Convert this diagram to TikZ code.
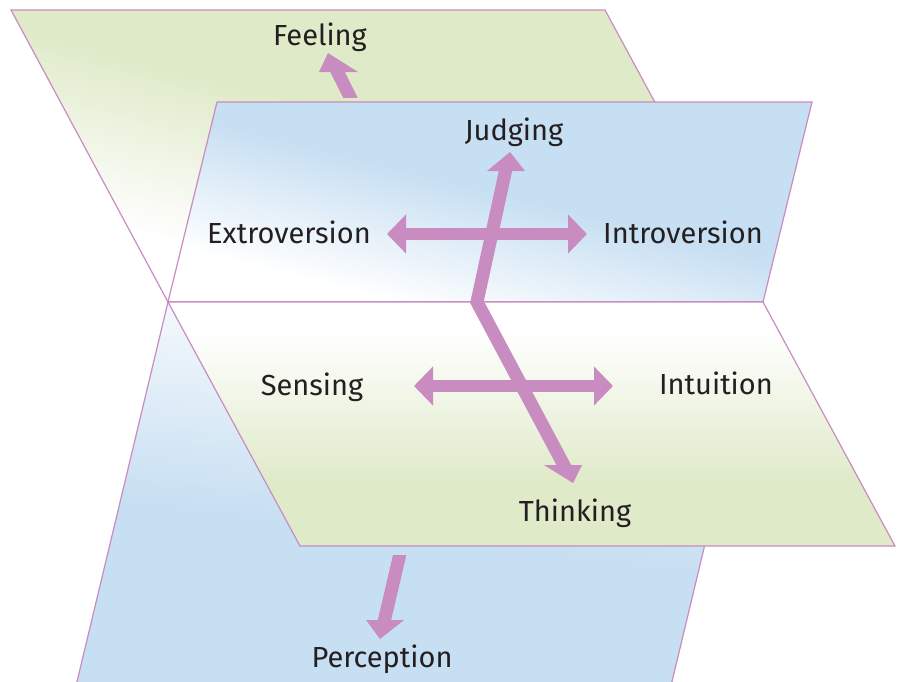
\documentclass[tikz,border=0pt]{standalone}
\usepackage{fontspec}
\setmainfont{Fira Sans}
\usetikzlibrary{arrows.meta}

\definecolor{edge}{RGB}{201,140,192}
\definecolor{arr}{RGB}{201,140,192}
\definecolor{lgreen}{RGB}{223,234,200}
\definecolor{lblue}{RGB}{199,223,242}
\definecolor{ink}{RGB}{35,31,32}

% colour ramps for the four sheets (0bp = bottom of the ramp)
\pgfdeclareverticalshading{greenrise}{100bp}{color(0bp)=(white); color(32bp)=(white); color(54bp)=(lgreen); color(100bp)=(lgreen)}
\pgfdeclareverticalshading{bluerise}{100bp}{color(0bp)=(white); color(29bp)=(white); color(52bp)=(lblue); color(100bp)=(lblue)}
\pgfdeclareverticalshading{greenfall}{100bp}{color(0bp)=(lgreen); color(38bp)=(lgreen); color(69bp)=(white); color(100bp)=(white)}
\pgfdeclareverticalshading{bluefall}{100bp}{color(0bp)=(lblue); color(45bp)=(lblue); color(75bp)=(white); color(100bp)=(white)}

\begin{document}
\begin{tikzpicture}[x=1pt,y=-1pt,
  plane/.style={draw=edge, line width=1.2pt, line join=miter, shade},
  shaft/.style={draw=arr, line width=13pt, line join=miter},
  head/.style={fill=arr},
  twoway/.style={draw=arr, line width=12pt,
    {Triangle[width=38pt,length=19pt]}-{Triangle[width=38pt,length=19pt]}},
  lab/.style={text=ink, font=\fontsize{29}{29}\selectfont, anchor=base, inner sep=0pt}
]
\useasboundingbox (0,0) rectangle (902,681);

% corner points of the sheets
\coordinate (gA) at (11,10);
\coordinate (gB) at (605,10);
\coordinate (bA) at (217,102);
\coordinate (bB) at (812,102);
\coordinate (mL) at (168,302);
\coordinate (mR) at (763,302);
\coordinate (lA) at (300,546);
\coordinate (lB) at (895,546);
\coordinate (qA) at (75,690);
\coordinate (qB) at (670,690);

% upper green sheet (behind)
\path[plane, shading=greenrise, shading angle=-15] (gA) -- (gB) -- (mR) -- (mL) -- cycle;

% Feeling arrow, emerging from behind the blue sheet
\coordinate (feelStart) at (355,107);
\coordinate (feelEnd) at (334.4,65.7);
\coordinate (feelTip) at (328,53);
\coordinate (feelL) at (319,72);
\coordinate (feelR) at (358,72);
\begin{scope}
  \clip (290,30) rectangle (390,97);
  \draw[shaft] (feelStart) -- (feelEnd);
\end{scope}
\fill[head] (feelTip) -- (feelL) -- (feelR) -- cycle;

% upper blue sheet
\path[plane, shading=bluerise, shading angle=-14] (bA) -- (bB) -- (mR) -- (mL) -- cycle;

% lower blue sheet
\path[plane, shading=bluefall, shading angle=-7] (mL) -- (mR) -- (qB) -- (qA) -- cycle;

% lower green sheet (front)
\path[plane, shading=greenfall] (mL) -- (mR) -- (lB) -- (lA) -- cycle;

% Extroversion / Introversion axis
\coordinate (exTip) at (387,234);
\coordinate (inTip) at (587,234);
\draw[twoway] (exTip) -- (inTip);

% Sensing / Intuition axis
\coordinate (seTip) at (414,386);
\coordinate (itTip) at (613,386);
\draw[twoway] (seTip) -- (itTip);

% Thinking / Judging bent axis
\coordinate (thEnd) at (567,471);
\coordinate (bend) at (477,302);
\coordinate (juEnd) at (507,164);
\draw[shaft] (thEnd) -- (bend) -- (juEnd);
\coordinate (juTip) at (510,152);
\coordinate (juL) at (487,171);
\coordinate (juR) at (525,171);
\fill[head] (juTip) -- (juL) -- (juR) -- cycle;
\coordinate (thTip) at (573,483);
\coordinate (thL) at (544,465);
\coordinate (thR) at (582,465);
\fill[head] (thTip) -- (thL) -- (thR) -- cycle;

% Perception arrow
\coordinate (peStart) at (402,545);
\coordinate (peEnd) at (382.9,626.8);
\coordinate (peTip) at (380,639);
\coordinate (peL) at (366,620);
\coordinate (peR) at (404,620);
\begin{scope}
  \clip (340,555) rectangle (430,640);
  \draw[shaft] (peStart) -- (peEnd);
\end{scope}
\fill[head] (peTip) -- (peL) -- (peR) -- cycle;

% labels
\node[lab] (feeling) at (320,45) {Feeling};
\node[lab] (judging) at (514,140) {Judging};
\node[lab] (extro) at (289,243) {Extroversion};
\node[lab] (intro) at (683,243) {Introversion};
\node[lab] (sensing) at (312,395) {Sensing};
\node[lab] (intuition) at (716,394) {Intuition};
\node[lab] (thinking) at (575,521) {Thinking};
\node[lab] (perception) at (382,667) {Perception};
\end{tikzpicture}
\end{document}
